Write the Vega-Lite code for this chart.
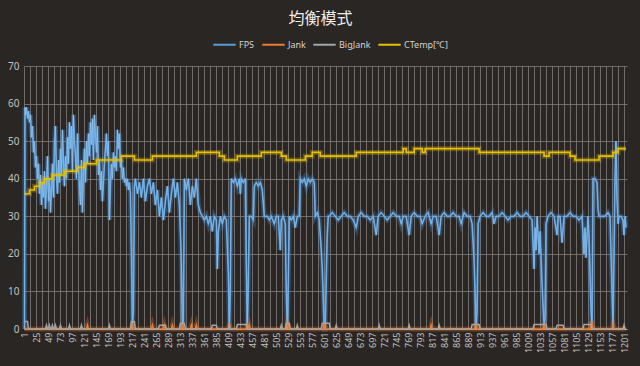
{
"$schema":"https://vega.github.io/schema/vega-lite/v6.json",
"width":603,"height":263,"autosize":"none",
"padding":{"left":24,"top":66,"right":13,"bottom":37},
"background":"#2a2624",
"title":{"text":"均衡模式","color":"#eeeeee","fontSize":16,"font":"Noto Sans CJK TC","fontWeight":"normal","anchor":"middle","offset":5,"dx":-5},
"config":{"view":{"stroke":null}},
"datasets":{
"fps":[{"x":1,"v":0},{"x":2,"v":59},{"x":3,"v":57},{"x":5,"v":59},{"x":7,"v":56},{"x":9,"v":58},{"x":11,"v":55},{"x":13,"v":57},{"x":15,"v":51},{"x":17,"v":54},{"x":19,"v":47},{"x":21,"v":50},{"x":23,"v":43},{"x":25,"v":46},{"x":27,"v":40},{"x":29,"v":44},{"x":31,"v":36},{"x":33,"v":41},{"x":35,"v":33},{"x":37,"v":39},{"x":39,"v":35},{"x":41,"v":42},{"x":43,"v":32},{"x":45,"v":38},{"x":47,"v":46},{"x":49,"v":34},{"x":51,"v":40},{"x":53,"v":31},{"x":55,"v":37},{"x":57,"v":44},{"x":59,"v":35},{"x":61,"v":50},{"x":63,"v":54},{"x":65,"v":41},{"x":67,"v":36},{"x":69,"v":45},{"x":71,"v":39},{"x":73,"v":48},{"x":75,"v":41},{"x":77,"v":53},{"x":79,"v":44},{"x":81,"v":38},{"x":83,"v":46},{"x":85,"v":40},{"x":87,"v":51},{"x":89,"v":44},{"x":91,"v":55},{"x":93,"v":48},{"x":95,"v":54},{"x":97,"v":42},{"x":99,"v":57},{"x":101,"v":50},{"x":103,"v":46},{"x":105,"v":40},{"x":107,"v":52},{"x":109,"v":44},{"x":111,"v":38},{"x":113,"v":33},{"x":115,"v":45},{"x":117,"v":31},{"x":119,"v":42},{"x":121,"v":48},{"x":123,"v":39},{"x":125,"v":50},{"x":127,"v":44},{"x":129,"v":52},{"x":131,"v":46},{"x":133,"v":55},{"x":135,"v":49},{"x":137,"v":56},{"x":139,"v":45},{"x":141,"v":57},{"x":143,"v":52},{"x":145,"v":47},{"x":147,"v":54},{"x":149,"v":41},{"x":151,"v":45},{"x":153,"v":37},{"x":155,"v":42},{"x":157,"v":34},{"x":159,"v":39},{"x":161,"v":44},{"x":163,"v":48},{"x":165,"v":52},{"x":167,"v":46},{"x":169,"v":50},{"x":171,"v":29},{"x":173,"v":38},{"x":175,"v":44},{"x":177,"v":40},{"x":179,"v":47},{"x":181,"v":43},{"x":183,"v":46},{"x":185,"v":42},{"x":187,"v":53},{"x":189,"v":48},{"x":191,"v":52},{"x":193,"v":43},{"x":195,"v":45},{"x":197,"v":40},{"x":199,"v":43},{"x":201,"v":39},
{"x":203,"v":40},{"x":205,"v":38},{"x":207,"v":40},{"x":209,"v":37},{"x":211,"v":39},{"x":213,"v":36},{"x":215,"v":20},{"x":217,"v":0},{"x":219,"v":5},{"x":221,"v":38},{"x":223,"v":40},{"x":227,"v":36},{"x":231,"v":39},{"x":235,"v":35},{"x":239,"v":40},{"x":243,"v":34},{"x":247,"v":38},{"x":251,"v":40},{"x":255,"v":36},{"x":259,"v":39},{"x":263,"v":33},{"x":267,"v":37},{"x":271,"v":30},{"x":275,"v":35},{"x":279,"v":29},{"x":283,"v":34},{"x":287,"v":38},{"x":291,"v":31},{"x":295,"v":36},{"x":299,"v":40},{"x":303,"v":35},{"x":307,"v":39},{"x":311,"v":33},{"x":313,"v":26},{"x":315,"v":18},{"x":317,"v":0},{"x":319,"v":2},{"x":321,"v":40},{"x":325,"v":37},{"x":329,"v":40},{"x":333,"v":33},{"x":337,"v":38},{"x":341,"v":35},{"x":345,"v":40},{"x":349,"v":33},{"x":353,"v":31},{"x":357,"v":30},{"x":361,"v":29},{"x":365,"v":30},{"x":369,"v":28},{"x":373,"v":30},{"x":377,"v":26},{"x":381,"v":30},{"x":385,"v":29},{"x":387,"v":16},{"x":389,"v":26},{"x":393,"v":30},{"x":397,"v":28},{"x":401,"v":30},{"x":405,"v":29},{"x":409,"v":15},{"x":411,"v":0},{"x":413,"v":10},{"x":415,"v":40},{"x":419,"v":39},{"x":423,"v":40},{"x":427,"v":38},{"x":431,"v":40},{"x":433,"v":36},{"x":435,"v":40},{"x":439,"v":39},{"x":443,"v":40},{"x":445,"v":17},{"x":447,"v":0},{"x":449,"v":12},{"x":451,"v":30},{"x":455,"v":30},{"x":459,"v":29},{"x":461,"v":38},{"x":465,"v":39},{"x":469,"v":38},{"x":473,"v":39},{"x":477,"v":37},{"x":481,"v":30},{"x":487,"v":30},{"x":491,"v":29},{"x":495,"v":30},{"x":501,"v":28},{"x":505,"v":30},{"x":509,"v":30},{"x":513,"v":21},{"x":515,"v":29},{"x":519,"v":30},{"x":523,"v":28},{"x":525,"v":10},{"x":527,"v":0},{"x":529,"v":12},{"x":531,"v":30},{"x":535,"v":29},{"x":539,"v":30},{"x":543,"v":27},{"x":547,"v":30},{"x":551,"v":30},{"x":553,"v":40},{"x":557,"v":39},{"x":561,"v":40},{"x":565,"v":38},{"x":569,"v":40},{"x":573,"v":39},{"x":577,"v":40},{"x":581,"v":39},{"x":583,"v":30},{"x":587,"v":31},{"x":591,"v":29},{"x":595,"v":21},{"x":597,"v":16},{"x":599,"v":8},{"x":601,"v":0},{"x":603,"v":0},{"x":605,"v":14},{"x":607,"v":25},{"x":609,"v":30},
{"x":611,"v":30},{"x":617,"v":31},{"x":623,"v":30},{"x":629,"v":29},{"x":635,"v":30},{"x":641,"v":31},{"x":647,"v":30},{"x":653,"v":30},{"x":659,"v":29},{"x":665,"v":27},{"x":669,"v":30},{"x":675,"v":31},{"x":681,"v":30},{"x":687,"v":30},{"x":693,"v":29},{"x":699,"v":30},{"x":705,"v":25},{"x":709,"v":30},{"x":715,"v":31},{"x":721,"v":30},{"x":727,"v":29},{"x":733,"v":30},{"x":739,"v":31},{"x":745,"v":30},{"x":751,"v":30},{"x":755,"v":28},{"x":759,"v":30},{"x":765,"v":30},{"x":771,"v":25},{"x":775,"v":30},{"x":781,"v":31},{"x":787,"v":30},{"x":793,"v":30},{"x":797,"v":28},{"x":803,"v":30},{"x":809,"v":31},{"x":815,"v":28},{"x":819,"v":30},{"x":825,"v":30},{"x":831,"v":25},{"x":835,"v":30},{"x":841,"v":31},{"x":847,"v":30},{"x":853,"v":30},{"x":859,"v":31},{"x":865,"v":30},{"x":871,"v":30},{"x":875,"v":28},{"x":881,"v":31},{"x":887,"v":30},{"x":893,"v":30},{"x":897,"v":28},{"x":901,"v":18},{"x":903,"v":10},{"x":905,"v":0},{"x":907,"v":5},{"x":909,"v":28},{"x":913,"v":30},{"x":919,"v":31},{"x":925,"v":30},{"x":931,"v":30},{"x":937,"v":31},{"x":941,"v":28},{"x":945,"v":30},{"x":951,"v":30},{"x":957,"v":31},{"x":963,"v":30},{"x":969,"v":29},{"x":975,"v":30},{"x":981,"v":30},{"x":987,"v":31},{"x":993,"v":30},{"x":999,"v":30},{"x":1005,"v":31},{"x":1011,"v":30},{"x":1017,"v":29},{"x":1021,"v":16},{"x":1023,"v":27},{"x":1025,"v":21},{"x":1027,"v":30},{"x":1031,"v":20},{"x":1033,"v":26},{"x":1037,"v":12},{"x":1041,"v":0},{"x":1043,"v":3},{"x":1045,"v":28},{"x":1049,"v":30},{"x":1055,"v":31},{"x":1061,"v":30},{"x":1067,"v":25},{"x":1069,"v":30},{"x":1073,"v":30},{"x":1077,"v":23},{"x":1081,"v":30},{"x":1087,"v":30},{"x":1093,"v":31},{"x":1099,"v":30},{"x":1105,"v":30},{"x":1111,"v":29},{"x":1117,"v":30},{"x":1121,"v":20},{"x":1123,"v":27},{"x":1125,"v":19},{"x":1129,"v":30},{"x":1131,"v":25},{"x":1135,"v":5},{"x":1137,"v":0},{"x":1139,"v":40},{"x":1143,"v":40},{"x":1147,"v":39},{"x":1149,"v":32},{"x":1151,"v":30},{"x":1157,"v":30},{"x":1163,"v":30},{"x":1169,"v":31},{"x":1173,"v":30},{"x":1177,"v":10},{"x":1179,"v":0},{"x":1181,"v":20},{"x":1183,"v":40},{"x":1185,"v":50},{"x":1187,"v":35},{"x":1189,"v":28},{"x":1191,"v":30},{"x":1195,"v":30},{"x":1199,"v":29},{"x":1201,"v":25},{"x":1203,"v":30},{"x":1205,"v":27}],
"jank":[{"x":1,"v":0},{"x":125,"v":0},{"x":127,"v":1},{"x":129,"v":0},{"x":215,"v":0},{"x":217,"v":1.5},{"x":219,"v":0},{"x":255,"v":0},{"x":257,"v":1},{"x":259,"v":0},{"x":279,"v":0},{"x":281,"v":1},{"x":283,"v":0},{"x":295,"v":0},{"x":297,"v":1},{"x":299,"v":0},{"x":315,"v":0},{"x":317,"v":1.5},{"x":319,"v":0},{"x":333,"v":0},{"x":335,"v":1},{"x":337,"v":0},{"x":343,"v":0},{"x":345,"v":1},{"x":347,"v":0},{"x":409,"v":0},{"x":411,"v":1.5},{"x":413,"v":0},{"x":445,"v":0},{"x":447,"v":1.5},{"x":449,"v":0},{"x":451,"v":1},{"x":453,"v":0},{"x":525,"v":0},{"x":527,"v":1.5},{"x":529,"v":1},{"x":531,"v":0},{"x":599,"v":0},{"x":601,"v":1.5},{"x":603,"v":0},{"x":813,"v":0},{"x":815,"v":1},{"x":817,"v":0},{"x":903,"v":0},{"x":905,"v":1.5},{"x":907,"v":0},{"x":1039,"v":0},{"x":1041,"v":1.5},{"x":1043,"v":0},{"x":1133,"v":0},{"x":1135,"v":1.5},{"x":1137,"v":1.5},{"x":1139,"v":0},{"x":1177,"v":0},{"x":1179,"v":1},{"x":1181,"v":0},{"x":1205,"v":0}],
"big":[{"x":1,"v":2},{"x":7,"v":2},{"x":9,"v":0},{"x":43,"v":0},{"x":45,"v":1},{"x":47,"v":0},{"x":49,"v":0},{"x":51,"v":1},{"x":53,"v":0},{"x":55,"v":0},{"x":57,"v":1},{"x":59,"v":0},{"x":61,"v":0},{"x":63,"v":1},{"x":65,"v":0},{"x":71,"v":0},{"x":73,"v":1},{"x":75,"v":0},{"x":89,"v":0},{"x":91,"v":1},{"x":93,"v":0},{"x":113,"v":0},{"x":115,"v":1},{"x":117,"v":0},{"x":169,"v":0},{"x":171,"v":1},{"x":173,"v":0},{"x":213,"v":0},{"x":215,"v":2},{"x":221,"v":2},{"x":223,"v":0},{"x":269,"v":0},{"x":271,"v":1},{"x":283,"v":1},{"x":285,"v":0},{"x":311,"v":0},{"x":313,"v":1.5},{"x":321,"v":1.5},{"x":323,"v":0},{"x":375,"v":0},{"x":377,"v":1},{"x":385,"v":1},{"x":387,"v":0},{"x":409,"v":0},{"x":411,"v":1},{"x":413,"v":0},{"x":425,"v":0},{"x":427,"v":1.2},{"x":445,"v":1.2},{"x":447,"v":0},{"x":513,"v":0},{"x":515,"v":1},{"x":517,"v":0},{"x":523,"v":0},{"x":525,"v":1.5},{"x":531,"v":1.5},{"x":533,"v":0},{"x":545,"v":0},{"x":547,"v":1},{"x":549,"v":0},{"x":595,"v":0},{"x":597,"v":1.5},{"x":611,"v":1.5},{"x":613,"v":0},{"x":623,"v":0},{"x":625,"v":1},{"x":627,"v":0},{"x":709,"v":0},{"x":711,"v":1},{"x":713,"v":0},{"x":769,"v":0},{"x":771,"v":1},{"x":773,"v":0},{"x":829,"v":0},{"x":831,"v":1},{"x":833,"v":0},{"x":895,"v":0},{"x":897,"v":1.2},{"x":911,"v":1.2},{"x":913,"v":0},{"x":1019,"v":0},{"x":1021,"v":1.2},{"x":1045,"v":1.2},{"x":1047,"v":0},{"x":1065,"v":0},{"x":1067,"v":1},{"x":1079,"v":1},{"x":1081,"v":0},{"x":1119,"v":0},{"x":1121,"v":1.2},{"x":1135,"v":1.2},{"x":1137,"v":0},{"x":1199,"v":0},{"x":1201,"v":1},{"x":1203,"v":0},{"x":1205,"v":0}],
"temp":[{"x":1,"v":36},{"x":11,"v":37},{"x":21,"v":38},{"x":31,"v":39},{"x":41,"v":40},{"x":57,"v":41},{"x":81,"v":42},{"x":107,"v":43},{"x":121,"v":44},{"x":145,"v":45},{"x":195,"v":46},{"x":221,"v":45},{"x":257,"v":46},{"x":345,"v":47},{"x":391,"v":46},{"x":401,"v":45},{"x":427,"v":46},{"x":475,"v":47},{"x":515,"v":46},{"x":525,"v":45},{"x":563,"v":46},{"x":577,"v":47},{"x":593,"v":46},{"x":665,"v":47},{"x":759,"v":48},{"x":765,"v":47},{"x":781,"v":48},{"x":797,"v":47},{"x":803,"v":48},{"x":911,"v":47},{"x":1041,"v":46},{"x":1051,"v":47},{"x":1093,"v":46},{"x":1103,"v":45},{"x":1151,"v":46},{"x":1179,"v":47},{"x":1189,"v":48},{"x":1205,"v":48}]
},
"encoding":{
"x":{"field":"x","type":"quantitative","scale":{"domain":[0,1207],"nice":false,"zero":false},
"axis":{"title":null,"values":[1,13,25,37,49,61,73,85,97,109,121,133,145,157,169,181,193,205,217,229,241,253,265,277,289,301,313,325,337,349,361,373,385,397,409,421,433,445,457,469,481,493,505,517,529,541,553,565,577,589,601,613,625,637,649,661,673,685,697,709,721,733,745,757,769,781,793,805,817,829,841,853,865,877,889,901,913,925,937,949,961,973,985,997,1009,1021,1033,1045,1057,1069,1081,1093,1105,1117,1129,1141,1153,1165,1177,1189,1201],
"format":"d","labelExpr":"(datum.value-1)%24==0 ? datum.label : ''","labelAngle":-90,"labelAlign":"right","labelBaseline":"middle","labelColor":"#c4c0bd","labelFontSize":9,"labelFont":"Noto Sans","labelPadding":3,"labelOverlap":false,"labelFlush":false,"ticks":false,"domain":true,"domainColor":"#bdb8b4","domainWidth":1,"grid":true,"gridColor":"#7d7875","gridOpacity":0.85}},
"y":{"field":"v","type":"quantitative","scale":{"domain":[0,70],"nice":false},
"axis":{"title":null,"values":[0,10,20,30,40,50,60,70],"labelColor":"#c4c0bd","labelFontSize":10,"labelFont":"Noto Sans","labelPadding":5,"ticks":false,"domain":false,"grid":true,"gridColor":"#7d7875","gridOpacity":0.85}}
},
"layer":[
{"data":{"name":"fps"},"mark":{"type":"line","color":"#4d94dc","strokeWidth":5,"opacity":0.3}},
{"data":{"name":"fps"},"mark":{"type":"line","strokeWidth":1.7},
 "encoding":{"color":{"datum":"FPS","type":"nominal","scale":{"domain":["FPS","Jank","BigJank","CTemp[℃]"],"range":["#5b9bd5","#ed7d31","#a5a5a5","#e8c000"]},
 "legend":{"orient":"none","legendX":188,"legendY":-34,"direction":"horizontal","title":null,"symbolType":"stroke","symbolStrokeWidth":2,"symbolSize":500,"labelColor":"#d6d2cf","labelFontSize":9,"labelFont":"Noto Sans","columnPadding":3,"labelOffset":2}}}},
{"data":{"name":"fps"},"mark":{"type":"line","color":"#a9d3f5","strokeWidth":0.6,"opacity":0.7}},
{"data":{"name":"jank"},"mark":{"type":"line","color":"#ed7d31","strokeWidth":5,"opacity":0.3}},
{"data":{"name":"jank"},"mark":{"type":"line","strokeWidth":1.5},
 "encoding":{"color":{"datum":"Jank","type":"nominal","scale":{"domain":["FPS","Jank","BigJank","CTemp[℃]"],"range":["#5b9bd5","#ed7d31","#a5a5a5","#e8c000"]}}}},
{"data":{"name":"big"},"mark":{"type":"line","strokeWidth":1.5},
 "encoding":{"color":{"datum":"BigJank","type":"nominal","scale":{"domain":["FPS","Jank","BigJank","CTemp[℃]"],"range":["#5b9bd5","#ed7d31","#a5a5a5","#e8c000"]}}}},
{"data":{"name":"temp"},"mark":{"type":"line","color":"#f2d000","strokeWidth":5,"opacity":0.25,"interpolate":"step-after"}},
{"data":{"name":"temp"},"mark":{"type":"line","strokeWidth":1.6,"interpolate":"step-after"},
 "encoding":{"color":{"datum":"CTemp[℃]","type":"nominal","scale":{"domain":["FPS","Jank","BigJank","CTemp[℃]"],"range":["#5b9bd5","#ed7d31","#a5a5a5","#e8c000"]}}}}
]
}
